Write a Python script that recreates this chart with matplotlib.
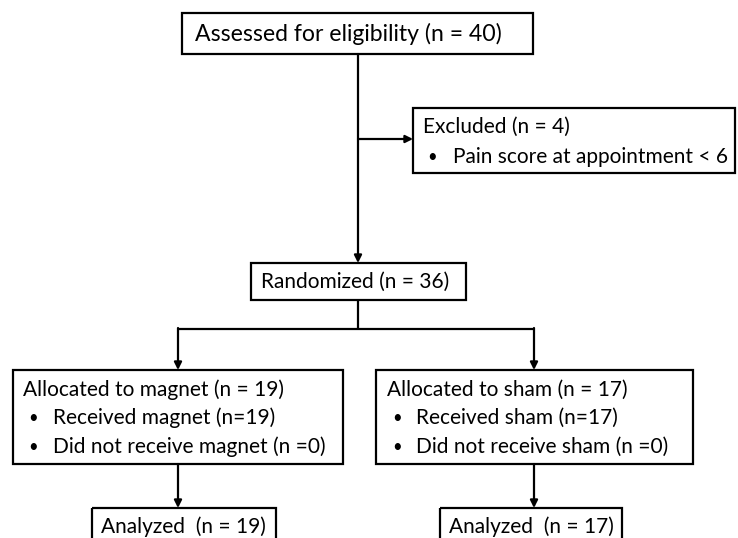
import matplotlib.pyplot as plt
from matplotlib.patches import Rectangle

plt.rcParams['font.family'] = ['Lato', 'DejaVu Sans']

# box texts
assessed = "Assessed for eligibility (n = 40)"
excluded_title = "Excluded (n = 4)"
excluded_items = ["Pain score at appointment < 6"]
randomized = "Randomized (n = 36)"
magnet_title = "Allocated to magnet (n = 19)"
magnet_items = ["Received magnet (n=19)", "Did not receive magnet (n =0)"]
sham_title = "Allocated to sham (n = 17)"
sham_items = ["Received sham (n=17)", "Did not receive sham (n =0)"]
analyzed = ["Analyzed  (n = 19)", "Analyzed  (n = 17)"]

fig = plt.figure(figsize=(7.38, 5.38), dpi=100)
ax = fig.add_axes([0, 0, 1, 1])
ax.set_xlim(0, 738)
ax.set_ylim(538, 0)
ax.axis('off')

FS = 15
LW = 1.6


def box(x0, y0, x1, y1):
    ax.add_patch(Rectangle((x0, y0), x1 - x0, y1 - y0, fill=False,
                           edgecolor='black', linewidth=LW, clip_on=False))


def line(xs, ys):
    ax.plot(xs, ys, color='black', linewidth=LW, solid_capstyle='butt')


def arrow(x0, y0, x1, y1):
    ax.annotate('', xy=(x1, y1), xytext=(x0, y0),
                arrowprops=dict(arrowstyle='-|>', color='black', lw=LW,
                                mutation_scale=11, shrinkA=0, shrinkB=0))


def bullet_box(x0, y0, x1, y1, title, items, y_lines, tx, bx, ix):
    box(x0, y0, x1, y1)
    ax.text(tx, y_lines[0], title, fontsize=FS, va='center', ha='left')
    for it, yy in zip(items, y_lines[1:]):
        ax.text(bx, yy, "\u2022", fontsize=FS - 3, va='center', ha='left')
        ax.text(ix, yy, it, fontsize=FS, va='center', ha='left')


# top box
box(182, 13, 533, 54)
ax.text(195, 34, assessed, fontsize=16.6, va='center', ha='left')

# main vertical and exclusion branch
arrow(358, 54, 358, 263)
arrow(358, 139, 413, 139)
bullet_box(413, 108, 735, 173, excluded_title, excluded_items,
           [127, 157], 423, 427, 453)

# randomized
box(251, 263, 466, 300)
ax.text(261, 282, randomized, fontsize=FS, va='center', ha='left')

# split
line([358, 358], [300, 329])
line([178, 534], [329, 329])
arrow(178, 328, 178, 370)
arrow(534, 328, 534, 370)

bullet_box(13, 370, 343, 464, magnet_title, magnet_items,
           [390, 418, 447], 23, 28, 53)
bullet_box(376, 370, 693, 464, sham_title, sham_items,
           [390, 418, 447], 387, 392, 416)

# analyzed
arrow(178, 464, 178, 508)
arrow(534, 464, 534, 508)
box(92, 508, 276, 545)
box(440, 508, 622, 545)
ax.text(101, 527, analyzed[0], fontsize=FS, va='center', ha='left')
ax.text(449, 527, analyzed[1], fontsize=FS, va='center', ha='left')

fig.savefig('out.png', dpi=100)
